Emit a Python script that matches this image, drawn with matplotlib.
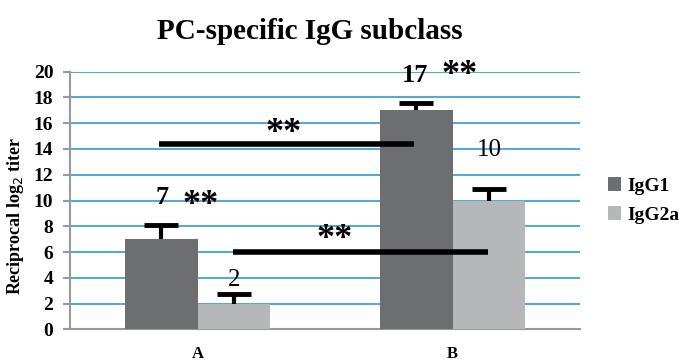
import numpy as np
import matplotlib
matplotlib.use("Agg")
import matplotlib.pyplot as plt

plt.rcParams['font.family'] = ['Liberation Serif', 'DejaVu Serif']

groups = ['A', 'B']
series = ['IgG1', 'IgG2a']
igg1 = [7, 17]
igg2a = [2, 10]
igg1_err = [1.1, 0.6]
igg2a_err = [0.75, 0.9]
colors = ['#6d6e70', '#b6b7b9']

fig = plt.figure(figsize=(6.79, 3.63), dpi=100)
ax = fig.add_axes([0.1031, 0.0928, 0.7511, 0.7097])

x = np.arange(len(groups))
w = 0.284
ax.bar(x - w / 2, igg1, w, color=colors[0], label=series[0], zorder=3)
ax.bar(x + w / 2, igg2a, w, color=colors[1], label=series[1], zorder=3)
for xs, vals, errs in [(x - w / 2, igg1, igg1_err), (x + w / 2, igg2a, igg2a_err)]:
    eb = ax.errorbar(xs, vals, yerr=[np.zeros(2), errs], fmt='none',
                     ecolor='black', elinewidth=3, capsize=12, capthick=3.5, zorder=4)
    eb[1][0].set_visible(False)  # upper-only error bars

# significance bars
ax.plot([-0.15, 0.85], [14.35, 14.35], color='black', lw=4, zorder=5, solid_capstyle='butt')
ax.plot([0.14, 1.14], [5.98, 5.98], color='black', lw=4, zorder=5, solid_capstyle='butt')
star = dict(ha='center', va='center', fontsize=26, fontweight='bold')
ax.text(0.337, 15.2, '**', **star)
ax.text(0.539, 7.0, '**', **star)

# value labels
ax.text(-0.14, 10.2, '7', ha='center', va='center', fontsize=19, fontweight='bold')
ax.text(0.014, 9.6, '**', **star)
ax.text(0.145, 3.8, '2', ha='center', va='center', fontsize=18)
ax.text(0.855, 19.7, '17', ha='center', va='center', fontsize=19, fontweight='bold')
ax.text(1.027, 19.7, '**', **star)
ax.text(1.145, 13.9, '10', ha='center', va='center', fontsize=18)

ax.set_xlim(-0.5, 1.5)
ax.set_ylim(0, 20)
ax.set_yticks(np.arange(0, 21, 2))
ax.set_xticks(x)
ax.set_xticklabels(groups, fontsize=12, fontweight='bold')
ax.tick_params(axis='x', length=0, pad=12)
ax.tick_params(axis='y', length=5, width=1.5, color='#999999', labelsize=14, pad=7)
for lab in ax.get_yticklabels():
    lab.set_fontweight('bold')
ax.yaxis.grid(True, color='#3ea3d6', lw=1.3, zorder=0)
ax.set_axisbelow(True)
for s in ['top', 'right']:
    ax.spines[s].set_visible(False)
for s in ['left', 'bottom']:
    ax.spines[s].set_color('#999999')
    ax.spines[s].set_linewidth(1.5)
ax.set_ylabel('Reciprocal log$_2$ titer', fontsize=13, fontweight='bold')
ax.yaxis.set_label_coords(-0.086, 0.44)

fig.text(0.457, 0.912, 'PC-specific IgG subclass', ha='center', va='center',
         fontsize=21, fontweight='bold')

leg = ax.legend(loc='center left', bbox_to_anchor=(1.02, 0.5), frameon=False,
                prop={'weight': 'bold', 'size': 14}, handlelength=0.7,
                handleheight=0.7, handletextpad=0.3, labelspacing=0.6)

fig.savefig('out.png', dpi=100)
